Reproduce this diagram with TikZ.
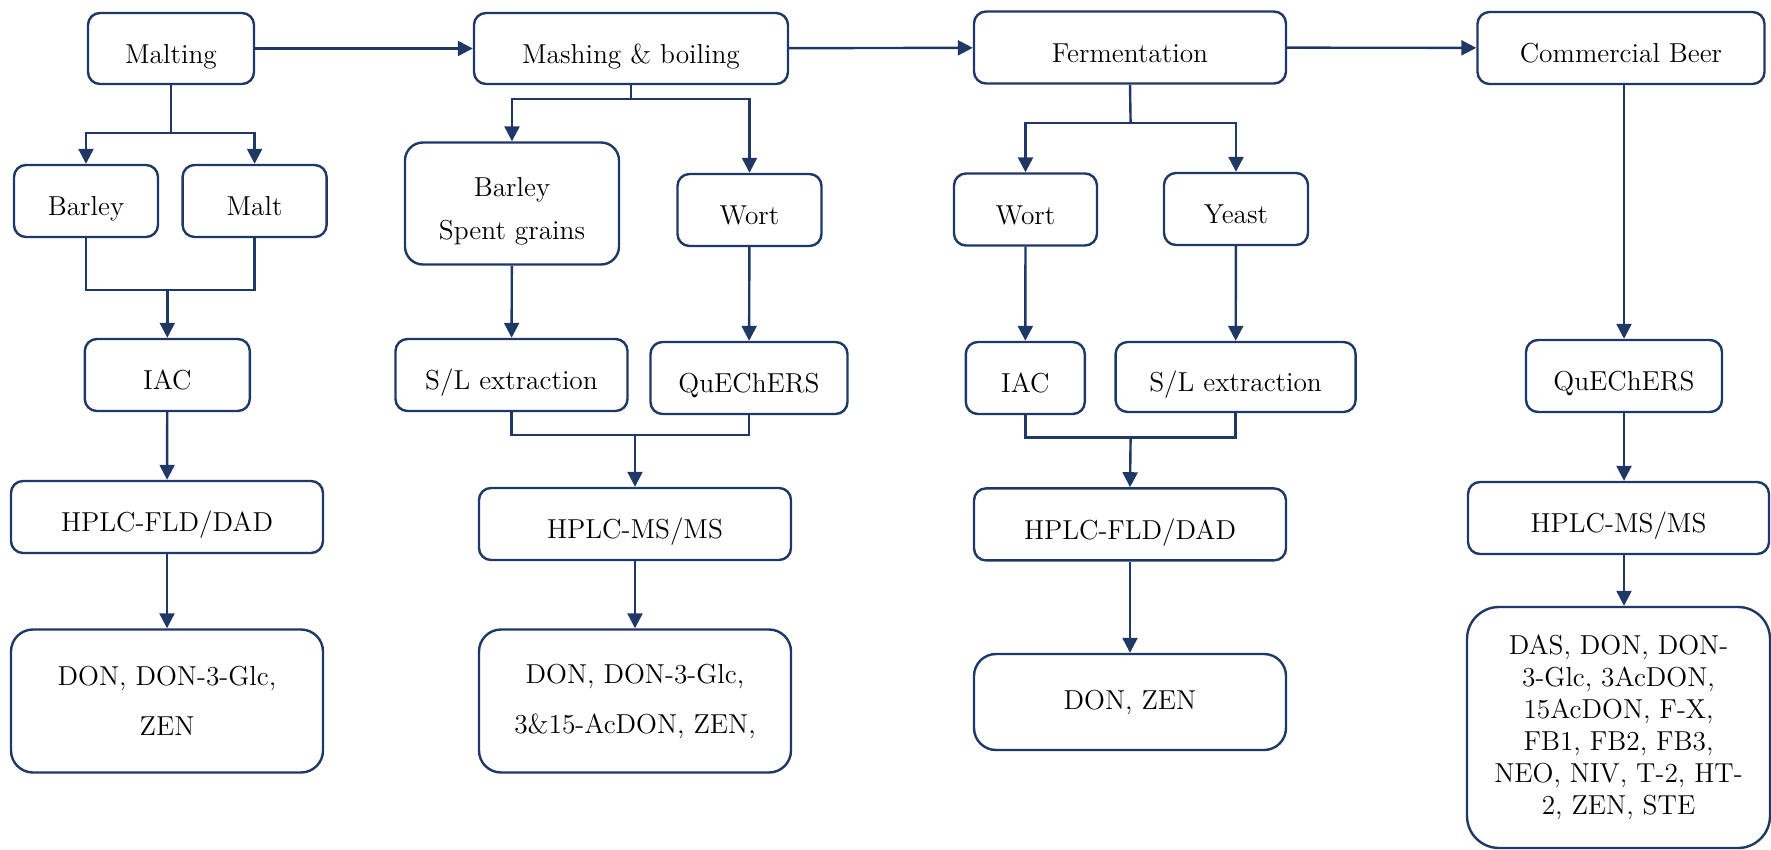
\documentclass[tikz,border=0pt]{standalone}
\usepackage{fontspec}
\usetikzlibrary{arrows.meta, positioning, calc}
\definecolor{DarkNavy}{rgb}{0.12,0.22,0.40}

\begin{document}
\begin{tikzpicture}[x=0.5pt, y=-0.5pt,
    box/.style={draw=DarkNavy, line width=1.2pt, rounded corners=6pt, align=center,
      inner sep=0pt, font=\fontsize{13.7}{16}\selectfont},
    tag/.style={box, text height=14.8pt, text depth=0pt},
    flow/.style={draw=DarkNavy, line width=1.2pt},
    arr/.style={flow, -{Triangle[length=7.5pt, width=7.5pt]}}]
  \useasboundingbox (0,0) rectangle (1771,850);

  % main line
  \node[tag, minimum width=83pt, minimum height=35.5pt] (malting) at (171,48.5) {Malting};
  \node[tag, minimum width=157pt, minimum height=35.5pt] (mashing) at (631,48.5) {Mashing \& boiling};
  \node[tag, minimum width=156pt, minimum height=36pt] (ferment) at (1130,47.5) {Fermentation};
  \node[tag, minimum width=143.5pt, minimum height=36pt] (beer) at (1621,48) {Commercial Beer};
  \draw[arr] (malting) -- (mashing);
  \draw[arr] (mashing) -- (ferment);
  \draw[arr] (ferment) -- (beer);

  % malting
  \node[tag, minimum width=72pt, minimum height=36pt] (barley) at (86,201) {Barley};
  \node[tag, minimum width=72pt, minimum height=36pt] (malt) at (254.6,201) {Malt};
  \node[tag, minimum width=82.5pt, minimum height=36pt] (iacA) at (167.3,375) {IAC};
  \node[tag, minimum width=156pt, minimum height=36pt] (hplcA) at (167,517) {HPLC-FLD/DAD};
  \node[box, minimum width=156pt, minimum height=71.5pt, rounded corners=11pt,
    font=\fontsize{13.7}{25}\selectfont] (toxA) at (167,701) {DON, DON-3-Glc,\\ZEN};
  \coordinate (maltsplit) at (171,133);
  \coordinate (maltjoin) at (167.3,290);
  \draw[flow] (malting.south) -- (maltsplit);
  \draw[arr] (maltsplit) -| (barley.north);
  \draw[arr] (maltsplit) -| (malt.north);
  \draw[flow] (barley.south) |- (maltjoin);
  \draw[flow] (malt.south) |- (maltjoin);
  \draw[arr] (maltjoin) -- (iacA.north);
  \draw[arr] (iacA) -- (hplcA);
  \draw[arr] (hplcA) -- (toxA);

  % mashing
  \node[box, minimum width=107pt, minimum height=61pt, rounded corners=9pt,
    text height=36.5pt, text depth=0pt,
    font=\fontsize{13.7}{21.5}\selectfont] (spent) at (512,203.5) {Barley\\Spent grains};
  \node[tag, minimum width=72pt, minimum height=36pt] (wortA) at (749.5,210) {Wort};
  \node[tag, minimum width=116pt, minimum height=36pt] (slxA) at (511.5,375) {S/L extraction};
  \node[tag, minimum width=98.5pt, minimum height=36pt] (quechA) at (749,378) {QuEChERS};
  \node[tag, minimum width=156pt, minimum height=36pt] (hplcB) at (635,524) {HPLC-MS/MS};
  \node[box, minimum width=156pt, minimum height=71.5pt, rounded corners=11pt,
    font=\fontsize{13.7}{25}\selectfont] (toxB) at (635,701) {DON, DON-3-Glc,\\3\&15-AcDON, ZEN,};
  \coordinate (mashsplit) at (631,99.3);
  \coordinate (mashjoin) at (635,434.7);
  \draw[flow] (mashing.south) -- (mashsplit);
  \draw[arr] (mashsplit) -| (spent.north);
  \draw[arr] (mashsplit) -| (wortA.north);
  \draw[arr] (spent) -- (slxA);
  \draw[arr] (wortA) -- (quechA);
  \draw[flow] (slxA.south) |- (mashjoin);
  \draw[flow] (quechA.south) |- (mashjoin);
  \draw[arr] (mashjoin) -- (hplcB.north);
  \draw[arr] (hplcB) -- (toxB);

  % fermentation
  \node[tag, minimum width=71.5pt, minimum height=36pt] (wortB) at (1025.5,209.5) {Wort};
  \node[tag, minimum width=72pt, minimum height=36pt] (yeast) at (1236,209) {Yeast};
  \node[tag, minimum width=59.5pt, minimum height=36pt] (iacB) at (1025.3,378) {IAC};
  \node[tag, minimum width=120pt, minimum height=35pt] (slxB) at (1235.6,377) {S/L extraction};
  \node[tag, minimum width=156pt, minimum height=36pt] (hplcC) at (1130,524.4) {HPLC-FLD/DAD};
  \node[box, minimum width=156pt, minimum height=48pt, rounded corners=11pt] (toxC) at (1130,702) {DON, ZEN};
  \coordinate (fermsplit) at (1130.6,123.3);
  \coordinate (fermjoin) at (1130.6,437.5);
  \draw[flow] (ferment.south) -- (fermsplit);
  \draw[arr] (fermsplit) -| (wortB.north);
  \draw[arr] (fermsplit) -| (yeast.north);
  \draw[arr] (wortB) -- (iacB);
  \draw[arr] (yeast) -- (slxB);
  \draw[flow] (iacB.south) |- (fermjoin);
  \draw[flow] (slxB.south) |- (fermjoin);
  \draw[arr] (fermjoin) -- (hplcC.north);
  \draw[arr] (hplcC) -- (toxC);

  % commercial beer
  \node[tag, minimum width=98pt, minimum height=36pt] (quechB) at (1624,376) {QuEChERS};
  \node[tag, minimum width=150.5pt, minimum height=36pt] (hplcD) at (1618.5,518) {HPLC-MS/MS};
  \node[box, minimum width=151.5pt, minimum height=120.5pt, rounded corners=16pt,
    font=\fontsize{13.7}{16}\selectfont] (toxD) at (1618.5,727.5)
    {DAS, DON, DON-\\3-Glc, 3AcDON,\\15AcDON, F-X,\\FB1, FB2, FB3,\\NEO, NIV, T-2, HT-\\2, ZEN, STE};
  \draw[arr] (beer.south -| quechB) -- (quechB.north);
  \draw[arr] (quechB) -- (quechB |- hplcD.north);
  \draw[arr] (quechB |- hplcD.south) -- (quechB |- toxD.north);
\end{tikzpicture}
\end{document}
